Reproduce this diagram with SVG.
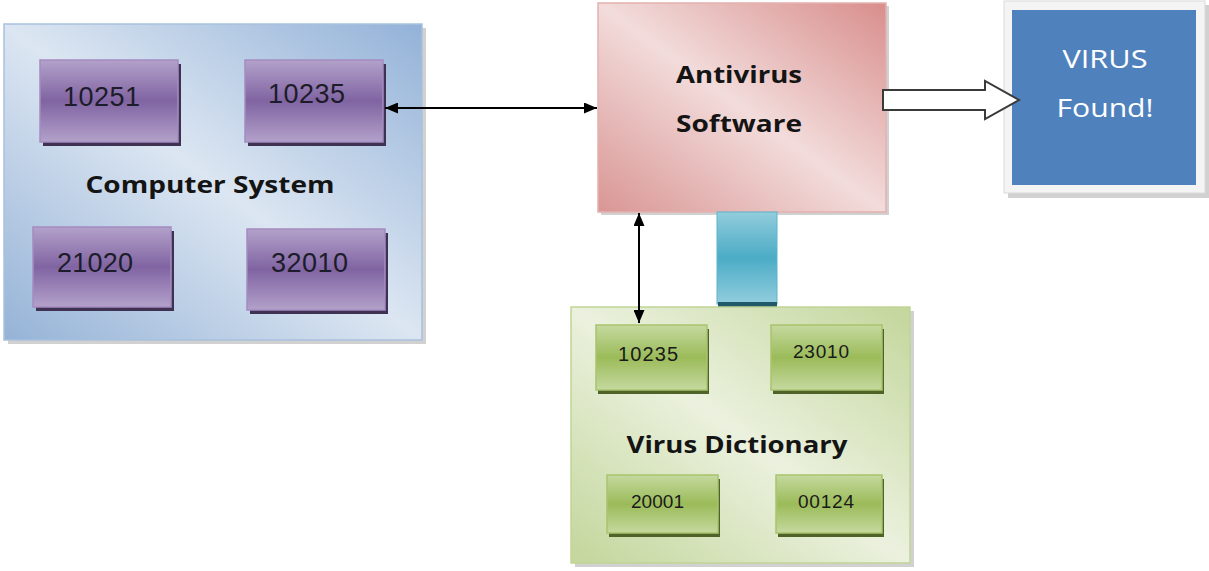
<svg xmlns="http://www.w3.org/2000/svg" width="1209" height="571" viewBox="0 0 1209 571">
<style>
.lbl{font-family:"Open Sans","Liberation Sans",sans-serif;font-weight:bold;fill:#141414;text-anchor:middle}
.num{font-family:"Liberation Sans",Arial,sans-serif;fill:#1c1c2a}
.gnum{font-family:"Liberation Sans",Arial,sans-serif;fill:#1a1a1a}
.pbox{fill:url(#gPurple);stroke:#a48cc0;stroke-width:1.5}
.pshadow{fill:#3f3151}
.gbox{fill:url(#gGreen);stroke:#a9c46e;stroke-width:1.5}
.gshadow{fill:#4f6228}
.shadow{fill:#9a9a9a;opacity:.45}
.conn{stroke:#000;stroke-width:2;fill:none}
.wt{font-family:"Open Sans","Liberation Sans",sans-serif;fill:#ffffff;text-anchor:middle}
</style>
<defs>
<linearGradient id="gBlue" x1="1" y1="0" x2="0" y2="1">
<stop offset="0" stop-color="#93b2d8"/>
<stop offset="0.5" stop-color="#dce6f2"/>
<stop offset="1" stop-color="#95b3d7"/>
</linearGradient>
<linearGradient id="gRed" x1="1" y1="0" x2="0" y2="1">
<stop offset="0" stop-color="#d88e8c"/>
<stop offset="0.5" stop-color="#f2dcdb"/>
<stop offset="1" stop-color="#d99694"/>
</linearGradient>
<linearGradient id="gGreen2" x1="1" y1="0" x2="0" y2="1">
<stop offset="0" stop-color="#c3d69b"/>
<stop offset="0.5" stop-color="#ebf1de"/>
<stop offset="1" stop-color="#c3d69b"/>
</linearGradient>
<linearGradient id="gPurple" x1="0" y1="0" x2="0" y2="1">
<stop offset="0" stop-color="#b3a1ca"/>
<stop offset="0.5" stop-color="#8064a2"/>
<stop offset="1" stop-color="#b3a1ca"/>
</linearGradient>
<linearGradient id="gGreen" x1="0" y1="0" x2="0" y2="1">
<stop offset="0" stop-color="#c5d99f"/>
<stop offset="0.5" stop-color="#9bbb59"/>
<stop offset="1" stop-color="#c5d99f"/>
</linearGradient>
<linearGradient id="gCyan" x1="0" y1="0" x2="0" y2="1">
<stop offset="0" stop-color="#92cddd"/>
<stop offset="0.5" stop-color="#4bacc6"/>
<stop offset="1" stop-color="#92cddd"/>
</linearGradient>
<marker id="ah" viewBox="0 0 13 11" refX="13" refY="5.5" markerWidth="13" markerHeight="11" markerUnits="userSpaceOnUse" orient="auto-start-reverse">
<path d="M0,0 L13,5.5 L0,11 Z" fill="#000"/>
</marker>
</defs>

<g id="computer-system">
<rect class="shadow" x="8" y="28" width="418" height="316"/>
<rect x="4" y="24" width="418" height="316" fill="url(#gBlue)" stroke="#a9c1dd" stroke-width="1.5"/>
<text class="lbl" x="210" y="193" font-size="24" textLength="249" lengthAdjust="spacingAndGlyphs">Computer System</text>
</g>
<g id="cs-10251">
<rect class="pshadow" x="43" y="64" width="138" height="82"/>
<rect class="pbox" x="40" y="60" width="138" height="82"/>
<text class="num" x="63" y="106" font-size="27" textLength="77" lengthAdjust="spacing">10251</text>
</g>
<g id="cs-10235">
<rect class="pshadow" x="248" y="64" width="138" height="82"/>
<rect class="pbox" x="245" y="60" width="138" height="82"/>
<text class="num" x="268" y="103" font-size="27" textLength="77" lengthAdjust="spacing">10235</text>
</g>
<g id="cs-21020">
<rect class="pshadow" x="36" y="231" width="138" height="80"/>
<rect class="pbox" x="33" y="227" width="138" height="80"/>
<text class="num" x="57" y="272" font-size="27" textLength="76" lengthAdjust="spacing">21020</text>
</g>
<g id="cs-32010">
<rect class="pshadow" x="250" y="233" width="138" height="81"/>
<rect class="pbox" x="247" y="229" width="138" height="81"/>
<text class="num" x="271" y="272" font-size="27" textLength="77" lengthAdjust="spacing">32010</text>
</g>

<g id="antivirus">
<rect class="shadow" x="601" y="6" width="288" height="209"/>
<rect x="598" y="3" width="288" height="209" fill="url(#gRed)" stroke="#e4b1b0" stroke-width="1.5"/>
<text class="lbl" x="739" y="83" font-size="24" textLength="126" lengthAdjust="spacingAndGlyphs">Antivirus</text>
<text class="lbl" x="739" y="132" font-size="24" textLength="126" lengthAdjust="spacingAndGlyphs">Software</text>
</g>

<g id="virus-found">
<rect class="shadow" x="1008" y="5" width="201" height="193"/>
<rect x="1004" y="1" width="201" height="192" fill="#f4f4f4" stroke="#dadada" stroke-width="1"/>
<rect x="1012" y="10" width="184" height="175" fill="#4f81bd"/>
<text class="wt" x="1105" y="68" font-size="25" textLength="85" lengthAdjust="spacingAndGlyphs">VIRUS</text>
<text class="wt" x="1105" y="117" font-size="25" textLength="97" lengthAdjust="spacingAndGlyphs">Found!</text>
</g>

<g id="cyan-link">
<rect x="717" y="212" width="60" height="92" fill="url(#gCyan)" stroke="#5eb3cb" stroke-width="1"/>
<rect x="718" y="302" width="59" height="5" fill="#215968"/>
</g>

<g id="virus-dictionary">
<rect class="shadow" x="575" y="311" width="339" height="256"/>
<rect x="571" y="307" width="339" height="256" fill="url(#gGreen2)" stroke="#c0d595" stroke-width="1.5"/>
<text class="lbl" x="737" y="453" font-size="24" textLength="221" lengthAdjust="spacingAndGlyphs">Virus Dictionary</text>
</g>
<g id="vd-10235">
<rect class="gshadow" x="598" y="329" width="111" height="65"/>
<rect class="gbox" x="596" y="325" width="111" height="65"/>
<text class="gnum" x="618" y="361" font-size="20" textLength="60" lengthAdjust="spacing">10235</text>
</g>
<g id="vd-23010">
<rect class="gshadow" x="773" y="329" width="111" height="65"/>
<rect class="gbox" x="771" y="325" width="111" height="65"/>
<text class="gnum" x="793" y="358" font-size="19" textLength="56" lengthAdjust="spacing">23010</text>
</g>
<g id="vd-20001">
<rect class="gshadow" x="609" y="479" width="111" height="58"/>
<rect class="gbox" x="607" y="475" width="111" height="58"/>
<text class="gnum" x="631" y="508" font-size="19" textLength="53" lengthAdjust="spacing">20001</text>
</g>
<g id="vd-00124">
<rect class="gshadow" x="778" y="479" width="106" height="58"/>
<rect class="gbox" x="776" y="475" width="106" height="58"/>
<text class="gnum" x="798" y="508" font-size="19" textLength="56" lengthAdjust="spacing">00124</text>
</g>

<g id="connectors">
<line class="conn" x1="385" y1="108" x2="597" y2="108" marker-start="url(#ah)" marker-end="url(#ah)"/>
<line class="conn" x1="639" y1="213" x2="639" y2="323" marker-start="url(#ah)" marker-end="url(#ah)"/>
<path d="M883,90 L985,90 L985,81 L1019,100 L985,119 L985,110 L883,110 Z" fill="#ffffff" stroke="#3a3a3a" stroke-width="2" stroke-linejoin="miter"/>
</g>
</svg>
